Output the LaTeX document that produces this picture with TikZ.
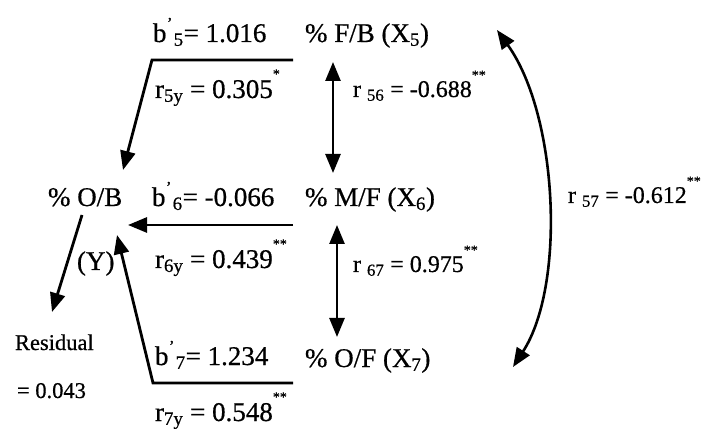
\documentclass[tikz,border=0pt]{standalone}
\usepackage{fontspec}
\setmainfont{Liberation Serif}[FakeBold=0.6]
\usetikzlibrary{arrows.meta}
\newcommand{\mystar}[1]{\raisebox{0.72em}{\fontsize{14}{14}\selectfont #1}}
\newcommand{\mypr}{\kern0.02em\raisebox{0.5em}{\fontsize{16}{16}\selectfont '}\kern0.05em}
\begin{document}
\begin{tikzpicture}[x=1pt,y=-1pt,
  every node/.style={inner sep=0pt, outer sep=0pt},
  big/.style={font=\fontsize{27}{30}\selectfont, anchor=base west},
  small/.style={font=\fontsize{24}{28}\selectfont, anchor=base west},
  tiny/.style={font=\fontsize{22.5}{26}\selectfont, anchor=base west},
  conn/.style={line width=2.8pt, line join=miter, -{Triangle[length=19pt,width=15pt]}},
  dconn/.style={line width=2.6pt, {Triangle[length=19pt,width=15pt]}-{Triangle[length=19pt,width=15pt]}}]
\useasboundingbox (0,0) rectangle (717,435);
% texts
\node[big] (b5) at (153,42) {b\mypr\textsubscript{5}= 1.016};
\node[big] (x5) at (305,42) {\% F/B (X\textsubscript{5})};
\node[big] (r5y) at (155,98) {r\textsubscript{5y} = 0.305\mystar{*}};
\node[small] (r56) at (353,97) {r \textsubscript{56} = -0.688\mystar{**}};
\node[big] (y) at (48,206) {\% O/B};
\node[big] (b6) at (152,206) {b\mypr\textsubscript{6}= -0.066};
\node[big] (x6) at (305,206) {\% M/F (X\textsubscript{6})};
\node[big] (yl) at (77,270) {(Y)};
\node[big] (r6y) at (155,268) {r\textsubscript{6y} = 0.439\mystar{**}};
\node[small] (r67) at (353,272) {r \textsubscript{67} = 0.975\mystar{**}};
\node[tiny] (res) at (15,350) {Residual};
\node[tiny] (resv) at (17,398) {= 0.043};
\node[big] (b7) at (155,365) {b\mypr\textsubscript{7}= 1.234};
\node[big] (x7) at (305,367) {\% O/F (X\textsubscript{7})};
\node[big] (r7y) at (155,421) {r\textsubscript{7y} = 0.548\mystar{**}};
\node[small] (r57) at (568,203) {r \textsubscript{57} = -0.612\mystar{**}};
% coordinates
\coordinate (c5a) at (293,60);
\coordinate (c5b) at (152,60);
\coordinate (t5) at (123,170);
\coordinate (c6a) at (293,225);
\coordinate (t6) at (128,225);
\coordinate (c7a) at (293,383);
\coordinate (c7b) at (153,383);
\coordinate (t7) at (117,235);
\coordinate (ys) at (82,215);
\coordinate (rt) at (52,312);
\coordinate (v5) at (333,62);
\coordinate (v6a) at (333,173);
\coordinate (v6b) at (337,225);
\coordinate (v7) at (337,337);
\coordinate (k5) at (497,30);
\coordinate (k7) at (513,367);
% connectors
\draw[conn] (c5a) -- (c5b) -- (t5);
\draw[conn] (c6a) -- (t6);
\draw[conn] (c7a) -- (c7b) -- (t7);
\draw[conn] (ys) -- (rt);
\draw[dconn] (v5) -- (v6a);
\draw[dconn] (v6b) -- (v7);
\draw[dconn] (k5) .. controls (558,115) and (566,285) .. (k7);
\end{tikzpicture}
\end{document}
